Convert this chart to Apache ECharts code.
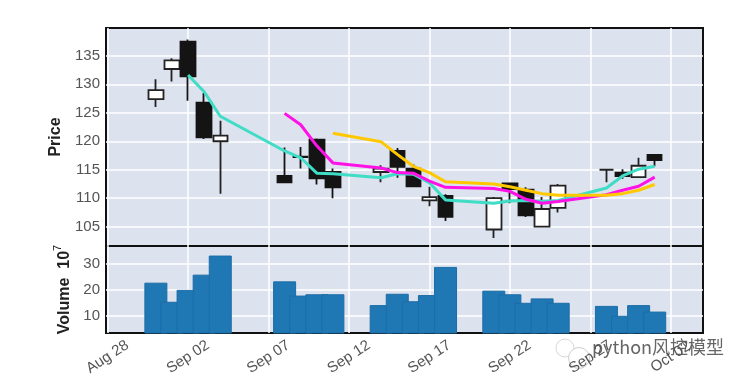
<!DOCTYPE html>
<html>
<head>
<meta charset="utf-8">
<style>html,body{margin:0;padding:0;background:#fff}#c{width:750px;height:386px}</style>
<script src="https://cdn.jsdelivr.net/npm/echarts@6/dist/echarts.min.js"></script>
</head>
<body>
<div id="c"></div>
<script>
// day offset from Aug 28
const days =   [3,4,5,6,7, 11,12,13,14, 17,18,19,20,21, 24,25,26,27,28, 31,32,33,34];
const opens =  [127.4,132.7,137.5,126.8,120.0, 113.9,117.3,120.3,114.6, 114.6,118.3,115.2,109.6,110.4, 104.5,112.6,111.5,105.0,108.3, 115.0,114.5,113.7,117.6];
const closes = [129.0,134.2,131.4,120.7,121.0, 112.8,117.2,113.5,111.9, 115.2,115.5,112.1,110.2,106.7, 110.0,111.6,107.0,108.1,112.2, 115.0,113.9,115.7,116.7];
const lows =   [126.0,130.5,127.1,120.4,110.8, 112.8,115.2,112.4,110.0, 112.8,113.6,112.0,108.6,106.0, 103.0,109.1,106.7,105.0,107.5, 112.8,113.4,113.6,115.6];
const highs =  [130.9,134.6,137.9,128.5,123.6, 118.9,119.0,120.5,115.2, 115.8,118.8,115.9,112.0,110.7, 110.2,112.7,111.9,110.2,112.5, 115.1,115.1,117.1,117.7];
const volumes =[22.8,15.4,20.0,25.9,33.3, 23.3,17.8,18.3,18.3, 14.1,18.5,15.6,18.0,28.9, 19.7,18.3,15.0,16.7,15.0, 13.8,10.0,14.1,11.6];
const mavA =   [null,null,131.65,128.7,124.4, 118.3,117.1,114.4,114.3, 113.6,114.3,114.2,112.7,109.7, 109.1,109.5,109.6,109.4,109.6, 111.8,113.9,115.1,115.6];
const mavB =   [null,null,null,null,null, 124.9,122.9,119.2,116.2, 115.3,114.5,114.4,113.0,111.9, 111.7,111.2,109.8,109.1,109.4, 110.6,111.4,112.1,113.7];
const mavC =   [null,null,null,null,null, null,null,null,121.4, 119.9,117.7,115.6,114.5,112.9, 112.5,112.0,111.4,110.8,110.5, 110.5,110.8,111.4,112.4];
const tickDays = [0,5,10,15,20,25,30,35];
const tickLabels = ['Aug 28','Sep 02','Sep 07','Sep 12','Sep 17','Sep 22','Sep 27','Oct 02'];
const priceTicks = [105,110,115,120,125,130,135];
const volumeTicks = [10,20,30];

const candleData = days.map((d,i)=>[d,opens[i],closes[i],lows[i],highs[i]]);
const volumeData = days.map((d,i)=>[d,volumes[i]]);
const lineData = arr => days.map((d,i)=>[d,arr[i]]).filter(p=>p[1]!==null);
const font = '"Liberation Sans", Arial, sans-serif';
const grey = '#555555';
const gridLine = {show:true,lineStyle:{color:'#ffffff',width:1.5}};
function mav(arr,color){
  return {type:'line',data:lineData(arr),xAxisIndex:0,yAxisIndex:0,symbol:'none',silent:true,
    lineStyle:{color:color,width:3},z:5,animation:false};
}
const chart = echarts.init(document.getElementById('c'),null,{renderer:'canvas'});
chart.setOption({
  animation:false,
  backgroundColor:'#ffffff',
  grid:[
    {left:106,top:28,width:597,height:218,show:true,backgroundColor:'#dce2ee',borderColor:'#111',borderWidth:2},
    {left:106,top:246,width:597,height:87,show:true,backgroundColor:'#dce2ee',borderColor:'#111',borderWidth:2}
  ],
  xAxis:[
    {type:'value',gridIndex:0,min:-0.1,max:37,
      axisLine:{show:false},axisTick:{show:false,customValues:tickDays},
      axisLabel:{show:false,customValues:tickDays},splitLine:gridLine},
    {type:'value',gridIndex:1,min:-0.1,max:37,
      axisLine:{show:false},axisTick:{show:false,customValues:tickDays},
      splitLine:gridLine,
      axisLabel:{customValues:tickDays,rotate:33,margin:24,align:'center',verticalAlign:'middle',
        color:grey,fontSize:15,fontFamily:font,
        formatter:v=>tickLabels[tickDays.indexOf(v)]||''}}
  ],
  yAxis:[
    {type:'value',gridIndex:0,min:101.6,max:139.9,scale:true,
      name:'Price',nameLocation:'middle',nameRotate:90,nameGap:41,
      nameTextStyle:{color:'#222',fontSize:16,fontFamily:font,fontWeight:'bold'},
      axisLine:{show:false},axisTick:{show:false,customValues:priceTicks},
      axisLabel:{customValues:priceTicks,color:grey,fontSize:15,fontFamily:font,margin:6},
      splitLine:gridLine},
    {type:'value',gridIndex:1,min:3.3,max:37,scale:true,
      name:'{a|Volume  10}{s|7}',nameLocation:'middle',nameRotate:90,nameGap:33,
      nameTextStyle:{color:'#222',rich:{
        a:{fontSize:16,fontFamily:font,color:'#222',fontWeight:'bold',lineHeight:20,verticalAlign:'bottom'},
        s:{fontSize:11,fontFamily:font,color:'#222',lineHeight:20,verticalAlign:'top'}}},
      axisLine:{show:false},axisTick:{show:false,customValues:volumeTicks},
      axisLabel:{customValues:volumeTicks,color:grey,fontSize:15,fontFamily:font,margin:6},
      splitLine:gridLine}
  ],
  series:[
    {type:'candlestick',xAxisIndex:0,yAxisIndex:0,data:candleData,barWidth:15,
      encode:{x:0,y:[1,2,3,4]},z:3,silent:true,
      itemStyle:{color:'#ffffff',color0:'#141414',borderColor:'#222222',borderColor0:'#141414',borderWidth:1.8}},
    mav(mavA,'#3fdcc6'),
    mav(mavB,'#ff12e6'),
    mav(mavC,'#ffc800'),
    {type:'bar',xAxisIndex:1,yAxisIndex:1,data:volumeData,barWidth:23,silent:true,
      itemStyle:{color:'#1f77b4',borderColor:'#1c6da6',borderWidth:1}}
  ],
  graphic:[
    {type:'circle',shape:{cx:565,cy:348,r:9},silent:true,z:-2,style:{fill:'#ffffff',stroke:'#d8d8d8',lineWidth:1}},
    {type:'circle',shape:{cx:579,cy:358,r:10.5},silent:true,z:-2,style:{fill:'#ffffff',stroke:'#cfcfcf',lineWidth:1}},
    {type:'text',x:592,y:338,silent:true,z:-1,style:{text:'python风控模型',fontSize:18,
      fontFamily:'"Noto Sans CJK SC", "Liberation Sans", sans-serif',fill:'#666666',stroke:'#ffffff',lineWidth:1.5}}
  ]
});
</script>
</body>
</html>
